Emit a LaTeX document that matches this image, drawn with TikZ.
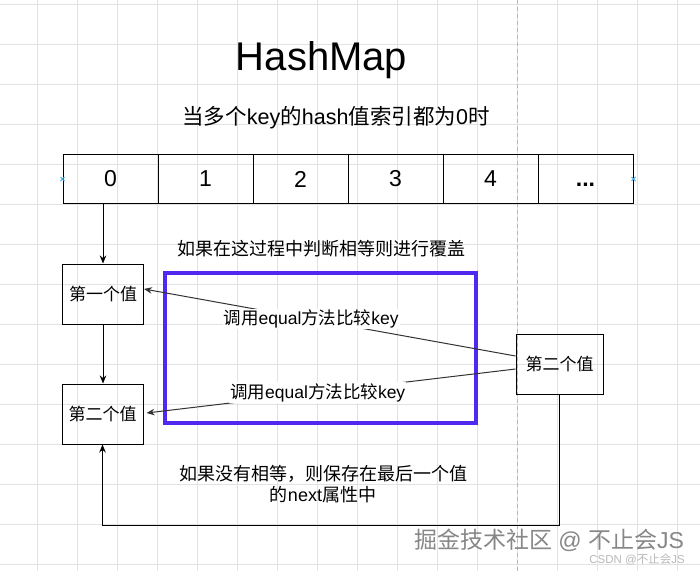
\documentclass[tikz,border=0pt]{standalone}
\usepackage{fontspec}
\setmainfont{Liberation Sans}
\newfontfamily\cjk{Noto Sans CJK SC}
\usetikzlibrary{arrows.meta,calc}
\newcommand\zh[1]{{\cjk #1}}
\definecolor{gridc}{RGB}{226,226,226}
\definecolor{purp}{RGB}{80,40,240}
\definecolor{markc}{RGB}{60,170,230}
\definecolor{wmc}{RGB}{135,135,135}
\definecolor{wmc2}{RGB}{185,185,185}
\begin{document}
\begin{tikzpicture}[x=1pt,y=-1pt,
  box/.style={draw=black,line width=1pt,minimum width=81pt,minimum height=60pt,inner sep=0pt,font=\fontsize{17}{20}\selectfont\cjk},
  cell/.style={draw=black,line width=1pt,minimum width=95pt,minimum height=49pt,inner sep=0pt,font=\fontsize{23}{26}\selectfont},
  arr/.style={line width=1pt,-{Stealth[length=8pt,width=6.5pt]}},
  lbl/.style={fill=white,inner sep=1pt,font=\fontsize{17.5}{21}\selectfont},
  note/.style={font=\fontsize{18}{22}\selectfont\cjk,align=center}]
\fill[white] (0,0) rectangle (700,571);
\useasboundingbox (0,0) rectangle (700,571);
% grid
\foreach \x in {37,77,...,677} \draw[gridc,line width=0.8pt] (\x,0) -- (\x,571);
\foreach \y in {4,44,...,564} \draw[gridc,line width=0.8pt] (0,\y) -- (700,\y);
\draw[black!28,line width=0.8pt,dash pattern=on 4pt off 3pt] (517,0) -- (517,571);
% titles
\node[anchor=base] (title) at (321.5,70) {\fontsize{40}{48}\selectfont HashMap};
\node (sub) at (336,118) {\fontsize{21.5}{25}\selectfont\zh{当多个}key\zh{的}hash\zh{值索引都为}0\zh{时}};
% array
\node[cell] (c0) at (110.5,179) {0};
\node[cell] (c1) at (205.5,179) {1};
\node[cell] (c2) at (300.5,179) {2};
\node[cell] (c3) at (395.5,179) {3};
\node[cell] (c4) at (490.5,179) {4};
\node[cell] (c5) at (585.5,179) {\vphantom{0}\textbf{.{}.{}.}};
\draw[markc,line width=1pt] (c0.west) +(-2,-2) -- +(2,2) +(-2,2) -- +(2,-2);
\draw[markc,line width=1pt] (c5.east) +(-2,-2) -- +(2,2) +(-2,2) -- +(2,-2);
% notes
\node[note] (note1) at (321,249) {如果在这过程中判断相等则进行覆盖};
\node[note] (note2) at (323,484) {如果没有相等，则保存在最后一个值\\[-1pt]{\fontsize{18}{22}\selectfont\zh{的}\rmfamily next\zh{属性中}}};
% frame
\node[draw=purp,line width=3.5pt,minimum width=311pt,minimum height=150pt,inner sep=0pt] (frame) at (320.5,348) {};
% value boxes
\node[box] (box1) at (103,294) {第一个值};
\node[box] (box2) at (102.5,414) {第二个值};
\node[box,minimum width=87pt] (box3) at (559.5,364) {第二个值};
% connectors
\coordinate (a0) at (box1.north |- c0.south);
\draw[arr] (a0) -- (box1.north);
\draw[arr] (box1.south) -- (box1.south |- box2.north);
\draw[arr,draw=black!80] ($(box3.west)+(0,-8)$) -- node[lbl,pos=0.55] {\zh{调用}equal\zh{方法比较}key} ($(box1.east)+(0,-5)$);
\draw[arr,draw=black!80] ($(box3.west)+(0,5)$) -- node[lbl,pos=0.536] {\zh{调用}equal\zh{方法比较}key} ($(box2.east)+(3,-1)$);
\draw[arr] (box3.south) |- ($(box2.south)+(0,81)$) -- (box2.south);
% watermarks
\node[text=wmc,inner sep=0pt] (wm) at (549,540) {\fontsize{23}{26}\selectfont\zh{掘金技术社区} @ \zh{不止会}JS};
\node[text=wmc2,inner sep=0pt,anchor=north] (wm2) at (637,553.5) {\fontsize{11.5}{13}\selectfont CSDN @\zh{不止会}JS};
\end{tikzpicture}
\end{document}
